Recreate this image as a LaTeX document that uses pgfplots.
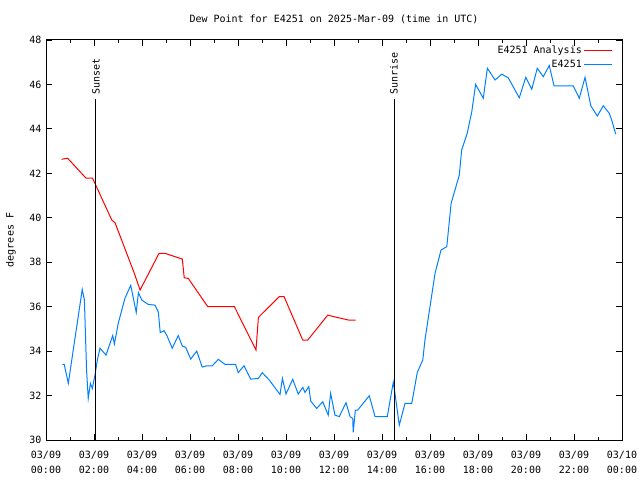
\documentclass[border=0pt]{standalone}
\usepackage{pgfplots}
\pgfplotsset{compat=1.18}
\usepackage{fontspec}
\setmainfont{DejaVu Sans Mono}
\definecolor{obsblue}{RGB}{0,128,255}
\begin{document}
\begin{tikzpicture}
\begin{axis}[
  at={(46pt,40pt)}, anchor=south west, scale only axis,
  width=576pt, height=400pt,
  xmin=0, xmax=24, ymin=30, ymax=48,
  xtick={0,2,...,24}, minor xtick={1,3,...,23},
  ytick={30,32,...,48},
  xticklabels={{03/09\\[3pt]00:00},{03/09\\[3pt]02:00},{03/09\\[3pt]04:00},{03/09\\[3pt]06:00},{03/09\\[3pt]08:00},{03/09\\[3pt]10:00},{03/09\\[3pt]12:00},{03/09\\[3pt]14:00},{03/09\\[3pt]16:00},{03/09\\[3pt]18:00},{03/09\\[3pt]20:00},{03/09\\[3pt]22:00},{03/10\\[3pt]00:00}},
  xticklabel style={align=center, font=\fontsize{10}{12}\selectfont, yshift=-8pt},
  yticklabel style={font=\fontsize{10}{12}\selectfont, xshift=-1pt},
  /pgf/number format/assume math mode=true,
  tick align=inside, major tick length=6pt, minor tick length=3pt,
  tick style={black, line width=0.8pt},
  axis line style={line width=1pt},
  legend style={at={(1,1)}, anchor=north east, xshift=-6pt, yshift=-2pt, draw=none, fill=none,
    font=\fontsize{10}{12}\selectfont, row sep=1pt},
  legend cell align=right, legend plot pos=right,
  legend image code/.code={\draw[#1] (0pt,0pt) -- (28pt,0pt);},
]
\addplot[red, line width=1pt] coordinates {
(0.65,42.63) (0.90,42.68) (1.67,41.78) (1.94,41.78) (2.74,39.90) (2.875,39.78)
(3.68,37.50) (3.92,36.75) (4.71,38.40) (4.96,38.40) (5.68,38.14) (5.76,37.30)
(5.93,37.27) (6.74,36.00) (7.85,36.00) (8.75,34.05) (8.85,35.52) (9.72,36.45)
(9.92,36.45) (10.70,34.49) (10.90,34.49) (11.74,35.62) (12.11,35.52) (12.60,35.40) (12.90,35.40)
};
\addlegendentry{E4251 Analysis}
\addplot[obsblue, line width=1pt] coordinates {
(0.68,33.40) (0.76,33.40) (0.93,32.55) (1.51,36.78) (1.60,36.30) (1.69,33.15)
(1.76,31.87) (1.85,32.55) (1.93,32.32) (2.04,32.92) (2.14,33.60) (2.25,34.13)
(2.50,33.82) (2.78,34.70) (2.85,34.32) (3.01,35.25) (3.29,36.38) (3.53,36.96)
(3.76,35.74) (3.85,36.63) (3.99,36.30) (4.26,36.10) (4.54,36.07) (4.68,35.77)
(4.76,34.83) (4.92,34.92) (5.03,34.72) (5.26,34.13) (5.51,34.70) (5.68,34.23)
(5.82,34.17) (6.03,33.64) (6.28,34.00) (6.51,33.28) (6.70,33.34) (6.93,33.34)
(7.18,33.63) (7.46,33.40) (7.67,33.40) (7.90,33.40) (8.01,33.03) (8.25,33.34)
(8.53,32.74) (8.85,32.77) (9.01,33.03) (9.30,32.70) (9.75,32.05) (9.85,32.77)
(10.00,32.07) (10.28,32.73) (10.51,32.07) (10.70,32.37) (10.79,32.14) (10.95,32.40)
(11.03,31.75) (11.28,31.42) (11.53,31.72) (11.76,31.12) (11.86,32.10) (12.04,31.12)
(12.22,31.05) (12.50,31.68) (12.67,31.05) (12.78,30.97) (12.80,30.34) (12.89,31.35)
(12.99,31.35) (13.47,31.99) (13.71,31.05) (14.22,31.05) (14.47,32.60) (14.54,32.10)
(14.72,30.67) (14.96,31.65) (15.24,31.65) (15.47,33.04) (15.70,33.60) (15.79,34.50)
(16.00,36.00) (16.21,37.50) (16.46,38.55) (16.70,38.70) (16.88,40.65) (17.14,41.62)
(17.22,41.92) (17.32,43.05) (17.55,43.80) (17.74,44.77) (17.90,46.00) (18.22,45.38)
(18.39,46.73) (18.71,46.20) (18.99,46.46) (19.26,46.30) (19.54,45.75) (19.72,45.40)
(19.99,46.32) (20.24,45.78) (20.47,46.73) (20.72,46.35) (20.97,46.85) (21.17,45.93)
(21.97,45.93) (22.22,45.38) (22.46,46.32) (22.70,45.04) (22.97,44.58) (23.22,45.04)
(23.47,44.70) (23.57,44.40) (23.74,43.76)
};
\addlegendentry{E4251}
\addplot[black, line width=1pt, forget plot] coordinates {(2.08,30) (2.08,45.34)};
\addplot[black, line width=1pt, forget plot] coordinates {(14.5,30) (14.5,45.34)};
\node[rotate=90, anchor=west, inner sep=1pt, font=\fontsize{10}{12}\selectfont] at (axis cs:2.08,45.5) {Sunset};
\node[rotate=90, anchor=west, inner sep=1pt, font=\fontsize{10}{12}\selectfont] at (axis cs:14.5,45.5) {Sunrise};
\end{axis}
\node[font=\fontsize{10}{12}\selectfont] at (334pt,461pt) {Dew Point for E4251 on 2025-Mar-09 (time in UTC)};
\node[rotate=90, font=\fontsize{10}{12}\selectfont] at (11pt,240pt) {degrees F};
\pgfresetboundingbox
\useasboundingbox (0pt,0pt) rectangle (640pt,480pt);
\end{tikzpicture}
\end{document}
